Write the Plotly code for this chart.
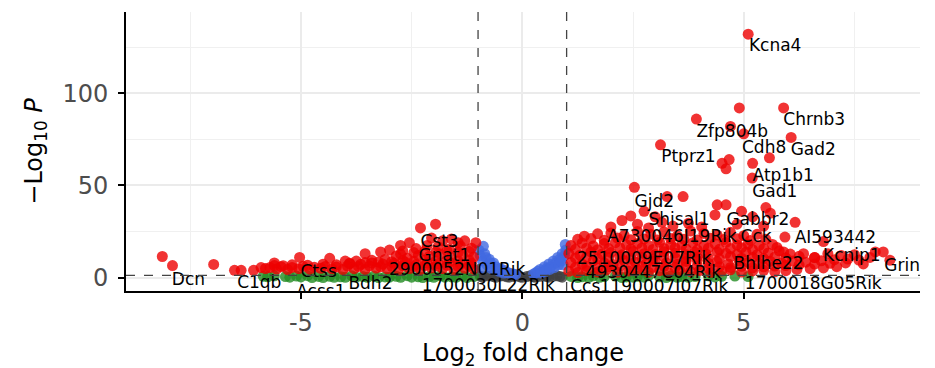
import plotly.graph_objects as go

# ---- data ----
# significant by both (red)
red_x = [5.1, 5.9, 4.9, 3.93, 4.7, 5.0, 6.07, 3.12, 4.67, 4.51, 4.6, 5.2, 5.58, 5.19,
         1.05, 1.25, 1.45, 1.7, 1.9, 2.15, 2.4, 2.6, 2.85, 3.1, 3.3, 3.55, 3.8, 4.0, 4.25, 4.5, 4.7, 4.95, 5.2, 5.45, 5.7, 5.95, 6.2, 6.5, 6.8, 7.1,
         1.2, 1.45, 1.7, 1.95, 2.2, 2.45, 2.7, 2.95, 3.2, 3.45, 3.7, 3.95, 4.2, 4.45, 4.7, 4.95, 5.2, 5.45, 5.7, 5.95, 6.25, 6.6, 6.95, 7.3, 7.7,
         1.1, 1.35, 1.6, 1.85, 2.05, 2.3, 2.55, 2.8, 3.0, 3.25, 3.5, 3.7, 3.95, 4.2, 4.4, 4.65, 4.9, 5.1, 5.35, 5.6, 5.85, 6.1, 6.4, 6.75, 7.05, 7.35, 7.6,
         1.2, 1.45, 1.7, 1.95, 2.2, 2.45, 2.7, 2.95, 3.2, 3.45, 3.7, 3.95, 4.2, 4.45, 4.7, 4.95, 5.2, 5.45, 5.7, 5.95, 6.25, 6.6,
         1.05, 1.3, 1.55, 1.8, 2.0, 2.25, 2.5, 2.75, 3.0, 3.2, 3.45, 3.7, 3.9, 4.15, 4.4, 4.6, 4.85, 5.05, 5.3, 5.55, 5.8, 6.05, 6.35,
         1.2, 1.45, 1.7, 1.95, 2.2, 2.45, 2.7, 2.95, 3.2, 3.45, 3.7, 3.95, 4.2, 4.45, 4.7, 4.95, 5.2, 5.45, 5.75,
         1.1, 1.35, 1.6, 1.85, 2.1, 2.35, 2.6, 2.85, 3.1, 3.35, 3.6, 3.85, 4.1, 4.35, 4.6, 4.85, 5.1, 5.35, 5.65,
         1.25, 1.55, 1.85, 2.15, 2.45, 2.75, 3.05, 3.35, 3.65, 3.95, 4.25, 4.55, 4.85, 5.15, 5.5,
         1.4, 1.7, 2.0, 2.3, 2.6, 2.9, 3.2, 3.5, 3.8, 4.1, 4.4, 4.7, 5.0, 5.3,
         2.0, 2.25, 2.45, 2.6, 2.85, 3.15, 3.4, 3.75, 4.05, 4.4, 4.6, 4.35, 4.85, 5.5, 5.6, 6.16, 5.93, 6.8, 8.15, 7.97,
         7.85, 5.9, 7.2, 7.5, 8.3, 6.6, 6.9, 3.27, 3.63, 2.53, 2.75, 3.0, 5.2, 4.95, 5.45,
         -1.1, -1.3, -1.55, -1.8, -2.05, -2.3, -2.55, -2.8, -3.05, -3.3, -3.55, -3.8, -4.05, -4.3, -4.55, -4.8, -5.05, -5.3, -5.55, -5.8,
         -1.2, -1.45, -1.7, -1.95, -2.2, -2.45, -2.7, -2.95, -3.2, -3.45, -3.7, -3.95, -4.2, -4.45, -4.7, -4.95, -5.2, -5.45, -5.7,
         -1.15, -1.4, -1.65, -1.9, -2.15, -2.4, -2.65, -2.9, -3.15, -3.4, -3.65, -3.9, -4.2, -4.5, -4.85, -5.2, -5.6,
         -1.2, -1.45, -1.7, -1.95, -2.2, -2.45, -2.7, -2.95, -3.25, -3.55, -3.9,
         -1.1, -1.35, -1.6, -1.85, -2.1, -2.35, -2.6, -2.85, -3.1, -3.4, -3.75,
         -1.2, -1.45, -1.7, -1.95, -2.2, -2.45, -2.75,
         -1.15, -1.4, -1.65, -1.9, -2.15, -2.4, -2.7,
         -2.3, -1.96, -2.55, -2.75, -3.2, -3.55, -4.35, -5.03, -5.6, -5.4, -8.13, -7.9, -6.97, -6.5, -6.35, -6.07,
         -1.3, -1.6, -1.05, -4.0, -3.0, -5.9, -1.45, -1.8, -2.05]
red_y = [132, 92, 92, 86, 82, 78, 76, 72, 64, 62, 59, 62, 65, 54,
         3.5, 2.8, 3.9, 3.1, 4.2, 2.9, 3.6, 4.4, 3.0, 3.8, 2.7, 4.1, 3.3, 3.9, 2.9, 3.6, 4.3, 3.1, 3.7, 4.0, 3.2, 3.8, 4.5, 4.9, 5.3, 6.0,
         5.6, 6.1, 5.3, 5.9, 6.3, 5.4, 6.0, 5.7, 6.2, 5.5, 5.8, 6.4, 5.2, 6.0, 5.6, 6.2, 5.4, 5.9, 6.3, 6.6, 7.0, 7.4, 7.8, 8.0, 7.5,
         8.2, 7.4, 9.1, 8.0, 7.2, 9.3, 8.5, 7.6, 9.0, 8.1, 7.3, 8.8, 9.4, 7.9, 8.6, 7.5, 9.2, 8.3, 7.7, 8.9, 8.0, 9.0, 8.4, 9.2, 9.8, 10.1, 9.6,
         10.6, 11.2, 10.3, 10.9, 11.4, 10.5, 11.0, 10.2, 11.3, 10.7, 10.4, 11.1, 10.8, 10.3, 11.5, 10.6, 11.0, 10.4, 11.2, 10.8, 11.6, 10.9,
         13.1, 12.2, 14.0, 12.8, 13.7, 12.4, 14.2, 13.0, 12.6, 14.1, 13.3, 12.5, 13.8, 12.9, 14.0, 13.2, 12.7, 13.9, 12.5, 13.4, 14.6, 12.8, 13.0,
         15.4, 16.0, 15.2, 15.8, 16.3, 15.5, 16.1, 15.3, 15.9, 16.2, 15.6, 15.1, 16.0, 15.4, 15.8, 16.3, 15.2, 15.7, 16.4,
         17.5, 18.8, 17.2, 18.5, 19.0, 17.8, 18.6, 17.4, 19.2, 18.0, 17.6, 18.9, 17.3, 18.4, 19.1, 17.7, 18.2, 17.5, 18.0,
         20.8, 21.2, 20.3, 21.5, 20.6, 21.0, 20.4, 21.3, 20.9, 20.5, 21.4, 20.7, 21.1, 20.2, 20.8,
         22.5, 23.8, 24.2, 22.9, 25.1, 23.6, 24.8, 22.7, 25.3, 24.0, 23.1, 24.6, 22.8, 23.5,
         27.5, 31, 33.5, 29, 27, 30, 28, 29.5, 27.5, 39.5, 39.5, 34, 29, 38, 35, 30, 22, 19.6, 14, 14,
         11, 14, 12, 12.5, 9.5, 11, 13, 44, 44, 49, 36, 33, 33, 36, 28,
         4.6, 5.1, 4.4, 4.9, 5.3, 4.5, 5.0, 4.3, 4.8, 5.2, 4.5, 4.9, 4.4, 4.8, 5.1, 4.6, 4.9, 4.4, 4.7, 5.0,
         6.4, 6.1, 6.7, 6.3, 6.6, 6.0, 6.5, 6.2, 5.9, 6.4, 6.1, 6.3, 5.8, 6.1, 5.7, 6.2, 5.6, 6.0, 5.5,
         7.9, 7.4, 8.4, 7.7, 8.1, 7.2, 8.5, 7.8, 7.4, 8.0, 7.3, 7.6, 7.0, 7.3, 6.8, 7.0, 6.6,
         9.4, 9.0, 9.7, 9.2, 9.5, 8.9, 9.3, 8.7, 8.5, 8.2, 7.9,
         11.2, 12.4, 10.8, 12.9, 11.6, 12.1, 10.5, 11.8, 9.9, 9.4, 9.0,
         14.2, 13.8, 14.5, 14.0, 14.6, 13.6, 12.8,
         16.0, 17.2, 15.5, 16.8, 17.5, 15.8, 14.5,
         27, 29, 19, 17.5, 14, 13, 10.5, 11, 8, 6.5, 11.5, 6.6, 7.2, 4, 4, 4,
         20, 21, 19, 9, 15, 5.5, 19, 20, 21.5]

# significant by fold change only (green)
green_x = [-1.1, -1.35, -1.6, -1.85, -2.1, -2.35, -2.6, -2.85, -3.1, -3.35, -3.6, -3.85, -4.1, -4.35,
           -4.6, -4.85, -5.1, -5.35, -5.6, -5.85, -2.0, -3.0, -4.0, -5.0, -4.5, -3.5, -2.5, -1.5,
           -1.25, -1.75, -2.25, -2.75, -3.25, -3.75, -4.25, -4.75, -5.25, -5.75,
           1.1, 1.35, 1.6, 1.85, 2.1, 2.35, 2.6, 2.85, 3.1, 3.35, 3.6, 3.9, 4.2, 4.5, 4.8, 1.5, 2.5, 3.5,
           1.25, 1.75, 2.25, 2.75, 3.25, 3.75, 4.35, 5.1]
green_y = [0.6, 0.9, 0.4, 1.0, 0.7, 0.5, 1.1, 0.8, 0.4, 0.9, 0.6, 1.0, 0.5, 0.8,
           0.7, 1.1, 0.9, 0.6, 1.0, 0.8, 0.2, 0.3, 0.2, 0.4, 0.1, 0.2, 0.3, 0.2,
           0.1, 0.3, 0.1, 0.2, 0.1, 0.3, 0.2, 0.1, 0.3, 0.5,
           0.7, 0.5, 1.0, 0.6, 0.9, 0.4, 0.8, 1.1, 0.5, 0.9, 0.7, 0.6, 1.0, 0.8, 0.9, 0.2, 0.3, 0.2,
           0.1, 0.2, 0.1, 0.3, 0.1, 0.2, 0.4, 0.6]

# significant by p-value only (blue)
blue_x = [-0.98, -0.95, -0.9, -0.85, -0.8, -0.75, -0.7, -0.65, -0.6, -0.55, -0.5, -0.45, -0.4, -0.35,
          -0.3, -0.2, -0.92, -0.88, -0.82, -0.72, -0.62, -0.52, -0.42, -0.25, -0.15,
          0.25, 0.3, 0.35, 0.4, 0.45, 0.5, 0.55, 0.6, 0.65, 0.7, 0.75, 0.8, 0.85, 0.9, 0.95, 0.98, 0.92, 0.97,
          0.42, 0.52, 0.62, 0.72, 0.82, 0.88]
blue_y = [15, 12, 9, 13, 7, 10, 5, 8, 6, 4.5, 5, 3.5, 4, 2.8,
          2.5, 2.0, 5, 17, 11, 8, 4.5, 3.5, 2.5, 2.2, 1.8,
          2.0, 2.6, 3.5, 4.5, 3.0, 6, 5, 7.5, 6, 9, 8, 11, 10, 13, 12, 15, 7, 18,
          2.5, 3.5, 4.5, 5.5, 7, 9]

# not significant (grey)
grey_x = [-0.95, -0.8, -0.65, -0.5, -0.35, -0.2, -0.05, 0.1, 0.25, 0.4, 0.55, 0.7, 0.85,
          -0.9, -0.6, -0.3, 0.0, 0.3, 0.6, 0.9, -0.72, -0.42, -0.12, 0.18, 0.48, 0.78]
grey_y = [0.8, 1.0, 0.6, 0.9, 0.5, 0.7, 0.4, 0.6, 0.5, 0.8, 0.6, 0.9, 0.7,
          0.3, 0.2, 0.3, 0.2, 0.2, 0.3, 0.3, 1.1, 1.0, 0.9, 1.0, 1.1, 1.0]

# gene labels (text positions)
label_text = ["Kcna4", "Chrnb3", "Zfp804b", "Cdh8", "Gad2", "Ptprz1", "Atp1b1", "Gad1", "Gjd2",
              "Shisal1", "Gabbr2", "A730046J19Rik", "Cck", "AI593442", "2510009E07Rik", "Kcnip1",
              "Bhlhe22", "Grin1", "4930447C04Rik", "Ccs", "1190007I07Rik", "1700018G05Rik",
              "1700030L22Rik", "2900052N01Rik", "Cst3", "Gnat1", "Ctss", "Acss1", "Bdh2", "Dcn", "C1qb"]
label_x = [5.71, 6.59, 4.74, 5.46, 6.57, 3.75, 5.89, 5.7, 2.98,
           3.54, 5.32, 3.38, 5.28, 7.07, 2.75, 7.44,
           5.56, 8.7, 2.96, 1.42, 3.2, 6.57,
           -0.77, -1.47, -1.87, -1.76, -4.6, -4.55, -3.43, -7.54, -5.94]
label_y = [125, 85, 78.5, 70, 69, 65, 54.5, 46, 40.5,
           31, 31, 21.7, 21.7, 21, 10, 11.5,
           7, 6, 2.3, -5.2, -5.3, -4,
           -5.1, 4, 19, 11.5, 2.9, -8.2, -3.7, -1.5, -3]

x_ticks = [-5, 0, 5]
y_ticks = [0, 50, 100]
fc_cut = 1.0
p_cut = 1.30103

fig = go.Figure()
mk = dict(size=11, opacity=0.8, line=dict(width=0))
fig.add_trace(go.Scatter(x=grey_x, y=grey_y, mode="markers", marker=dict(color="#404040", **mk)))
fig.add_trace(go.Scatter(x=green_x, y=green_y, mode="markers", marker=dict(color="#228B22", **mk)))
fig.add_trace(go.Scatter(x=blue_x, y=blue_y, mode="markers", marker=dict(color="#4169E1", **mk)))
fig.add_trace(go.Scatter(x=red_x, y=red_y, mode="markers", marker=dict(color="#EE0000", **mk)))
fig.add_trace(go.Scatter(x=label_x, y=label_y, mode="text", text=label_text,
                         textposition="middle center", cliponaxis=True,
                         textfont=dict(family="DejaVu Sans", size=17, color="black")))

for v in (-fc_cut, fc_cut):
    fig.add_shape(type="line", xref="x", yref="paper", x0=v, x1=v, y0=0, y1=1,
                  line=dict(color="#444444", width=1.3, dash="dash"))
fig.add_shape(type="line", xref="paper", yref="y", x0=0, x1=1, y0=p_cut, y1=p_cut,
              line=dict(color="#444444", width=1.3, dash="dash"))

# the page body adds an 8px offset; margins compensate for it
fig.update_layout(
    width=935, height=368,
    margin=dict(l=118, r=23, t=4, b=85),
    plot_bgcolor="white", paper_bgcolor="white",
    showlegend=False,
    font=dict(family="DejaVu Sans"),
)
fig.update_xaxes(
    range=[-8.95, 8.98], tickvals=x_ticks, ticktext=[str(t) for t in x_ticks],
    showgrid=True, gridcolor="#EBEBEB", gridwidth=1.8,
    minor=dict(tickvals=[-7.5, -2.5, 2.5, 7.5], showgrid=True, gridcolor="#F0F0F0", gridwidth=1),
    zeroline=False, showline=True, linecolor="black", linewidth=2,
    ticks="outside", ticklen=6, tickwidth=2, tickcolor="black",
    tickfont=dict(size=24, color="#4D4D4D"), automargin=False, ticklabelstandoff=3,
    title=dict(text="Log<sub>2</sub> fold change", font=dict(size=24, color="black"), standoff=8),
)
fig.update_yaxes(
    range=[-7.2, 144], tickvals=y_ticks, ticktext=[str(t) for t in y_ticks],
    showgrid=True, gridcolor="#EBEBEB", gridwidth=1.8,
    minor=dict(tickvals=[25, 75, 125], showgrid=True, gridcolor="#F0F0F0", gridwidth=1),
    zeroline=False, showline=True, linecolor="black", linewidth=2,
    ticks="outside", ticklen=6, tickwidth=2, tickcolor="black",
    tickfont=dict(size=24, color="#4D4D4D"), automargin=False, ticklabelstandoff=5,
    title=dict(text="\u2212Log<sub>10</sub> <i>P</i>", font=dict(size=24, color="black"), standoff=13),
)

fig.write_html("out.html")
